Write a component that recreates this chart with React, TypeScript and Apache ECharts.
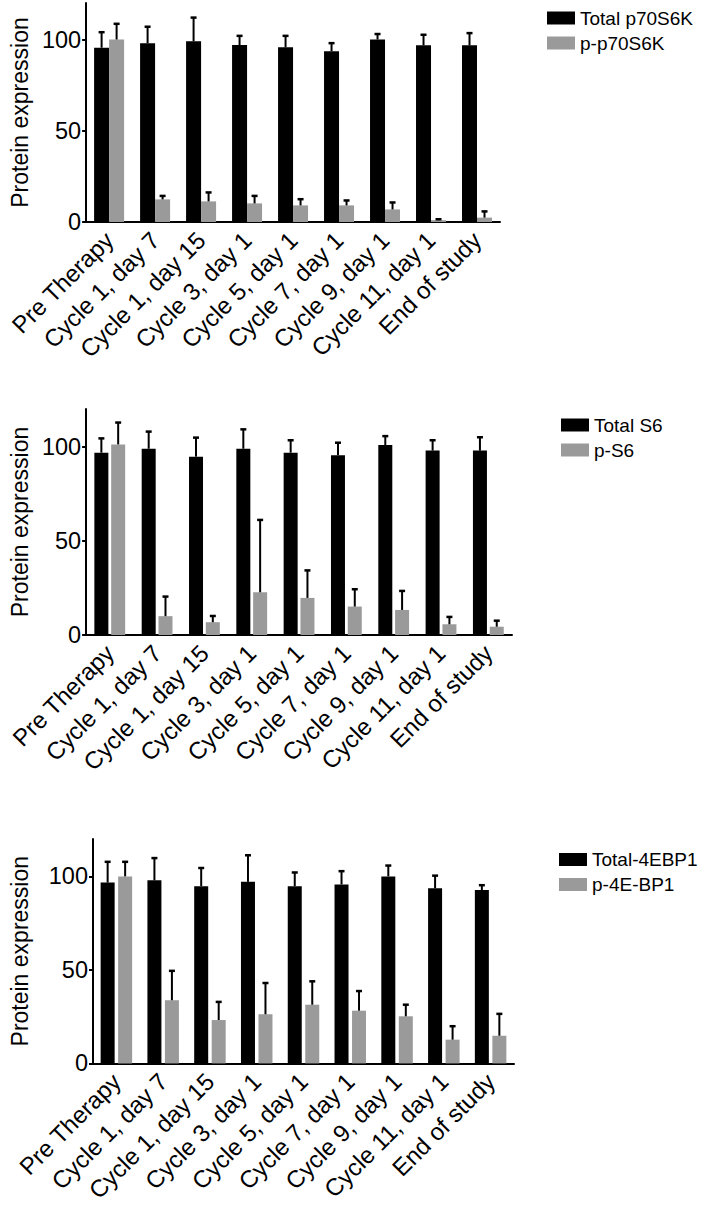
import React, { useEffect, useRef } from "react";
import * as echarts from "echarts";

const categories = [
  "Pre Therapy",
  "Cycle 1, day 7",
  "Cycle 1, day 15",
  "Cycle 3, day 1",
  "Cycle 5, day 1",
  "Cycle 7, day 1",
  "Cycle 9, day 1",
  "Cycle 11, day 1",
  "End of study",
];

const yTicks = [0, 50, 100];

// Panel 1: p70S6K
const totalP70S6K = [95.5, 97.9, 99, 97, 95.7, 93.6, 100, 96.8, 96.8];
const totalP70S6KErr = [8.5, 9.1, 13, 5, 6.3, 4.4, 3, 5.8, 6.7];
const phosP70S6K = [100, 12.4, 11.3, 10.2, 9.1, 9.1, 6.9, 1, 2.4];
const phosP70S6KErr = [8.6, 1.9, 4.9, 4.1, 3.4, 2.7, 3.8, 0.5, 3.4];

// Panel 2: S6
const totalS6 = [96.8, 98.9, 94.7, 98.9, 96.8, 95.5, 100.9, 97.9, 97.9];
const totalS6Err = [7.6, 9.1, 10.1, 10.3, 6.6, 6.6, 4.7, 5.5, 7.1];
const phosS6 = [101.2, 10, 6.8, 22.7, 19.7, 15.1, 13.3, 5.7, 4.4];
const phosS6Err = [11.6, 10.4, 3.3, 38.4, 14.6, 9.2, 10.1, 3.9, 3.2];

// Panel 3: 4EBP1
const total4EBP1 = [96.7, 97.9, 94.8, 97.1, 94.8, 95.7, 100, 93.6, 92.7];
const total4EBP1Err = [11.1, 11.9, 9.7, 14.2, 7.3, 7.1, 5.8, 6.8, 2.6];
const phos4EBP1 = [100, 33.8, 23.2, 26.3, 31.4, 28.2, 25.2, 12.7, 14.8];
const phos4EBP1Err = [7.8, 15.7, 9.7, 16.7, 12.5, 10.5, 6.2, 7.2, 11.7];

const panelNames = [
  ["Total p70S6K", "p-p70S6K"],
  ["Total S6", "p-S6"],
  ["Total-4EBP1", "p-4E-BP1"],
];

const FONT = "Liberation Sans, Arial, Helvetica, sans-serif";
const BLACK = "#000000";
const GRAY = "#9a9a9b";

export default function App() {
  const ref = useRef<HTMLDivElement>(null);

  useEffect(() => {
    document.body.style.margin = "0";
    if (!ref.current) return;
    const chart = echarts.init(ref.current, null, { renderer: "svg" });

    const panels = [
      { total: totalP70S6K, totalErr: totalP70S6KErr, phos: phosP70S6K, phosErr: phosP70S6KErr,
        grid: { left: 79, top: 3, width: 421, height: 219 }, barWidth: 15, barGap: "0%", off: 7.5,
        legend: { left: 547, top: 8.5 }, nameGap: 54 },
      { total: totalS6, totalErr: totalS6Err, phos: phosS6, phosErr: phosS6Err,
        grid: { left: 79, top: 409, width: 433, height: 226 }, barWidth: 14, barGap: "20%", off: 8.4,
        legend: { left: 561, top: 415.5 }, nameGap: 54 },
      { total: total4EBP1, totalErr: total4EBP1Err, phos: phos4EBP1, phosErr: phos4EBP1Err,
        grid: { left: 87, top: 839, width: 427, height: 230 }, barWidth: 14, barGap: "25%", off: 8.75,
        legend: { left: 559, top: 850 }, nameGap: 62 },
    ];

    const grids: any[] = [];
    const xAxes: any[] = [];
    const yAxes: any[] = [];
    const legends: any[] = [];
    const series: any[] = [];

    panels.forEach((p, k) => {
      grids.push({ ...p.grid, containLabel: false });
      xAxes.push({
        type: "category",
        gridIndex: k,
        data: categories,
        axisLine: { lineStyle: { color: BLACK, width: 2 } },
        axisTick: { alignWithLabel: true, length: 5, lineStyle: { color: BLACK, width: 2 } },
        axisLabel: {
          interval: 0,
          rotate: 45,
          margin: 14,
          color: BLACK,
          fontSize: 24,
          fontFamily: FONT,
        },
      });
      yAxes.push({
        type: "value",
        gridIndex: k,
        min: 0,
        max: 120,
        interval: 50,
        name: "Protein expression",
        nameLocation: "middle",
        nameRotate: 90,
        nameGap: p.nameGap,
        nameTextStyle: { color: BLACK, fontSize: 23, fontFamily: FONT },
        splitLine: { show: false },
        axisLine: { show: true, lineStyle: { color: BLACK, width: 2 } },
        axisTick: { show: true, length: 4, customValues: yTicks, lineStyle: { color: BLACK, width: 2 } },
        axisLabel: { color: BLACK, fontSize: 23.5, fontFamily: FONT, margin: 5, customValues: yTicks },
      });
      legends.push({
        data: panelNames[k],
        orient: "vertical",
        left: p.legend.left,
        top: p.legend.top,
        padding: 0,
        icon: "rect",
        itemWidth: 28,
        itemHeight: 13,
        itemGap: 6,
        textStyle: { color: BLACK, fontSize: 19, fontFamily: FONT },
      });
      const mk = (name: string, vals: number[], color: string) => ({
        type: "bar",
        name,
        xAxisIndex: k,
        yAxisIndex: k,
        data: vals,
        barWidth: p.barWidth,
        barGap: p.barGap,
        itemStyle: { color },
      });
      series.push(mk(panelNames[k][0], p.total, BLACK));
      series.push(mk(panelNames[k][1], p.phos, GRAY));
      const errSeries = (name: string, vals: number[], errs: number[], offset: number) => ({
        type: "custom",
        name,
        xAxisIndex: k,
        yAxisIndex: k,
        z: 5,
        data: vals.map((v, i) => [i, v, errs[i]]),
        encode: { x: 0, y: 1 },
        renderItem: (_params: any, api: any) => {
          const i = api.value(0);
          const v = api.value(1);
          const e = api.value(2);
          const base = api.coord([i, v]);
          const top = api.coord([i, v + e]);
          const x = base[0] + offset;
          return {
            type: "group",
            children: [
              { type: "line", shape: { x1: x, y1: base[1], x2: x, y2: top[1] }, style: { stroke: BLACK, lineWidth: 2 } },
              { type: "line", shape: { x1: x - 3, y1: top[1], x2: x + 3, y2: top[1] }, style: { stroke: BLACK, lineWidth: 2.5 } },
            ],
          };
        },
      });
      series.push(errSeries("err-total-" + k, p.total, p.totalErr, -p.off));
      series.push(errSeries("err-phos-" + k, p.phos, p.phosErr, p.off));
    });

    chart.setOption({
      animation: false,
      backgroundColor: "#ffffff",
      textStyle: { fontFamily: FONT },
      grid: grids,
      xAxis: xAxes,
      yAxis: yAxes,
      legend: legends,
      series,
    });

    return () => chart.dispose();
  }, []);

  return <div ref={ref} style={{ width: 704, height: 1205 }} />;
}
